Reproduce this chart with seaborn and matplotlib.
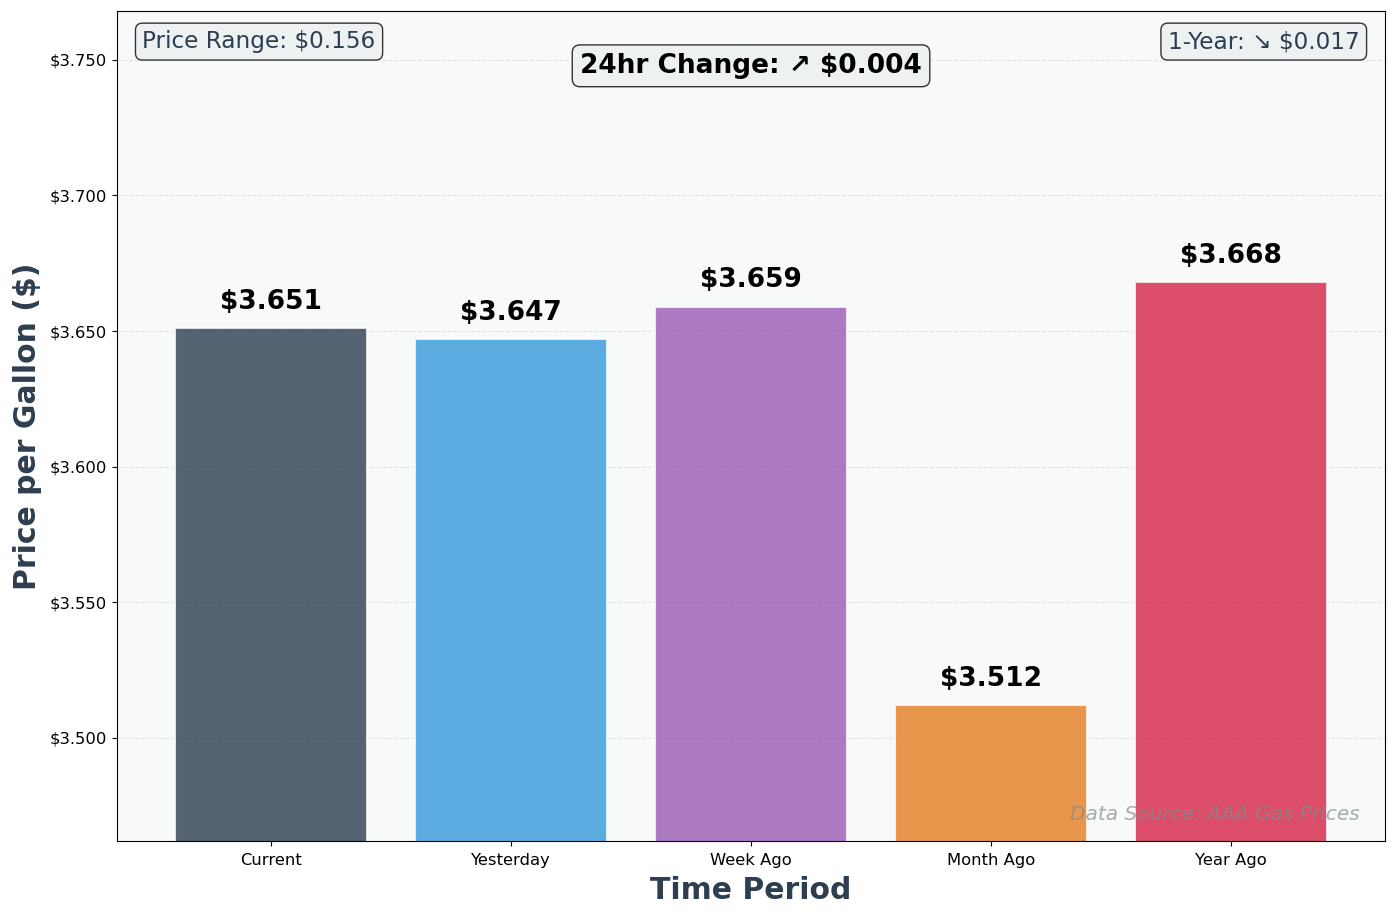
import matplotlib
matplotlib.use("Agg")
import matplotlib.pyplot as plt
import matplotlib.ticker as mticker
import pandas as pd
import seaborn as sns

periods = ["Current", "Yesterday", "Week Ago", "Month Ago", "Year Ago"]
prices = [3.651, 3.647, 3.659, 3.512, 3.668]
colors = ["#2c3e50", "#3498db", "#9b59b6", "#e67e22", "#d62246"]

df = pd.DataFrame({"period": periods, "price": prices})

fig, ax = plt.subplots(figsize=(13.97, 9.18), dpi=100)
fig.subplots_adjust(left=0.0838, right=0.9914, top=0.988, bottom=0.0839)
ax.set_facecolor("#f8f9f9")

sns.barplot(data=df, x="period", y="price", hue="period", palette=colors,
            legend=False, alpha=0.8, edgecolor="white", linewidth=1.5,
            saturation=1, ax=ax)

ax.set_xlim(-0.64, len(periods) - 1 + 0.64)
ax.set_ylim(min(prices) - 0.05, max(prices) + 0.1)
ax.yaxis.set_major_formatter(mticker.FuncFormatter(lambda v, p: f"${v:.3f}"))
ax.grid(axis="y", linestyle="--", alpha=0.3)
ax.set_axisbelow(True)
ax.tick_params(axis="y", labelsize=11.8)
ax.tick_params(axis="x", labelsize=11.8, pad=5)

for i, v in enumerate(prices):
    ax.text(i, v + 0.005, f"${v:.3f}", ha="center", va="bottom",
            fontsize=19, fontweight="bold")

ax.set_xlabel("Time Period", fontsize=21.5, fontweight="bold", color="#2c3e50", labelpad=6)
ax.set_ylabel("Price per Gallon ($)", fontsize=21.5, fontweight="bold", color="#2c3e50", labelpad=6)

box = dict(boxstyle="round,pad=0.3", facecolor=(0.925, 0.941, 0.945, 0.8),
           edgecolor="#333333")
ax.text(0.5, 0.934, "24hr Change: ↗ $0.004", transform=ax.transAxes, ha="center",
        va="center", fontsize=19, fontweight="bold", bbox=box)
ax.text(0.02, 0.977, "Price Range: $0.156", transform=ax.transAxes, ha="left",
        va="top", fontsize=16.7, color="#2c3e50", bbox=box)
ax.text(0.98, 0.977, "1-Year: ↘ $0.017", transform=ax.transAxes, ha="right",
        va="top", fontsize=16.7, color="#2c3e50", bbox=box)
ax.text(0.98, 0.02, "Data Source: AAA Gas Prices", transform=ax.transAxes,
        ha="right", va="bottom", fontsize=14.5, style="italic", color="#7f8c8d", alpha=0.7)

fig.savefig("out.png", dpi=100)
